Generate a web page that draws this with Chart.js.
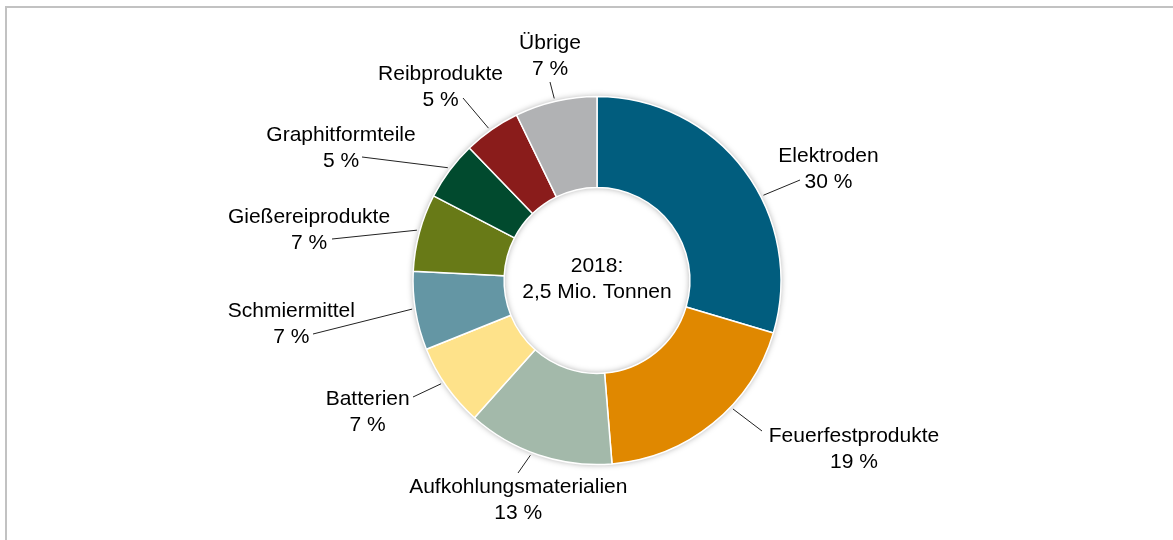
<!DOCTYPE html>
<html>
<head>
<meta charset="utf-8">
<script src="https://cdn.jsdelivr.net/npm/chart.js@4/dist/chart.umd.min.js"></script>
<style>
  html, body { margin: 0; padding: 0; background: #fff; }
  #frame { position: absolute; left: 5px; top: 6px; width: 1300px; height: 700px;
           border-top: 2px solid #c2c2c2; border-left: 2px solid #c2c2c2; }
  #wrap { position: absolute; left: 0; top: 0; width: 1173px; height: 540px; }
</style>
</head>
<body>
<div id="frame"></div>
<div id="wrap"><canvas id="chart"></canvas></div>
<script>
// Graphitverbrauch nach Anwendung, 2018
const categories = ['Elektroden', 'Feuerfestprodukte', 'Aufkohlungsmaterialien', 'Batterien',
  'Schmiermittel', 'Gießereiprodukte', 'Graphitformteile', 'Reibprodukte', 'Übrige'];
const shares = [29.6, 19.1, 12.9, 7.3, 6.9, 6.8, 5.2, 5.0, 7.2];
const shareLabels = ['30 %', '19 %', '13 %', '7 %', '7 %', '7 %', '5 %', '5 %', '7 %'];
const colors = ['#015d7e', '#e08800', '#a3b9aa', '#fee28a', '#6496a4', '#687a17', '#014a2e', '#8a1c1b', '#b1b2b4'];
const centerLines = ['2018:', '2,5 Mio. Tonnen'];

// label placement relative to the ring centre: [leader pos in slice, leader end dx, dy, text dx, baseline dy]
const labelLayout = [
  [0.59, 203, -100.5, 231.5, -118.5],
  [0.39, 165, 150.5, 257, 161.5],
  [0.55, -79, 192.5, -78.7, 212.8],
  [0.56, -184, 116.5, -229.3, 124.5],
  [0.53, -284, 53.5, -305.7, 36.8],
  [0.52, -265, -41.5, -288, -57.2],
  [0.52, -235, -123.5, -256, -139.8],
  [0.47, -134, -182.5, -156.5, -200.5],
  [0.49, -47, -198.5, -47, -231.2],
];

const FONT = '21px "Liberation Sans", Arial, sans-serif';
const LINE_H = 26;

const ringShadow = {
  id: 'ringShadow',
  beforeDatasetsDraw(chart) {
    const arc = chart.getDatasetMeta(0).data[0];
    if (!arc) return;
    const { x, y, outerRadius, innerRadius } = arc.getProps(['x', 'y', 'outerRadius', 'innerRadius'], true);
    const ctx = chart.ctx;
    ctx.save();
    ctx.shadowColor = 'rgba(0,0,0,0.35)';
    ctx.shadowBlur = 6;
    ctx.fillStyle = '#fff';
    ctx.beginPath();
    ctx.arc(x, y, outerRadius, 0, Math.PI * 2);
    ctx.arc(x, y, innerRadius, 0, Math.PI * 2, true);
    ctx.fill();
    ctx.restore();
  }
};

const outerLabels = {
  id: 'outerLabels',
  afterDatasetsDraw(chart) {
    const meta = chart.getDatasetMeta(0);
    const ctx = chart.ctx;
    const first = meta.data[0];
    const cx = first.x, cy = first.y;
    ctx.save();
    ctx.font = FONT;
    ctx.fillStyle = '#000';
    ctx.textAlign = 'center';
    ctx.textBaseline = 'alphabetic';

    meta.data.forEach((arc, i) => {
      const [frac, ex, ey, tx, ty] = labelLayout[i];
      const a = arc.startAngle + (arc.endAngle - arc.startAngle) * frac;
      const r = arc.outerRadius + 3;
      ctx.strokeStyle = '#222';
      ctx.lineWidth = 1;
      ctx.beginPath();
      ctx.moveTo(cx + Math.cos(a) * r, cy + Math.sin(a) * r);
      ctx.lineTo(cx + ex, cy + ey);
      ctx.stroke();
      ctx.fillText(categories[i], cx + tx, cy + ty);
      ctx.fillText(shareLabels[i], cx + tx, cy + ty + LINE_H);
    });

    ctx.fillText(centerLines[0], cx, cy - 8.5);
    ctx.fillText(centerLines[1], cx, cy - 8.5 + LINE_H);
    ctx.restore();
  }
};

new Chart(document.getElementById('chart'), {
  type: 'doughnut',
  data: {
    labels: categories,
    datasets: [{
      data: shares,
      backgroundColor: colors,
      borderColor: '#ffffff',
      borderWidth: 1.5,
      radius: 184,
    }],
  },
  options: {
    responsive: true,
    maintainAspectRatio: false,
    animation: false,
    cutout: '50.5%',
    layout: { padding: { left: 21, top: 21, right: 0, bottom: 0 } },
    plugins: {
      legend: { display: false },
      tooltip: { enabled: false },
    },
  },
  plugins: [ringShadow, outerLabels],
});
</script>
</body>
</html>
